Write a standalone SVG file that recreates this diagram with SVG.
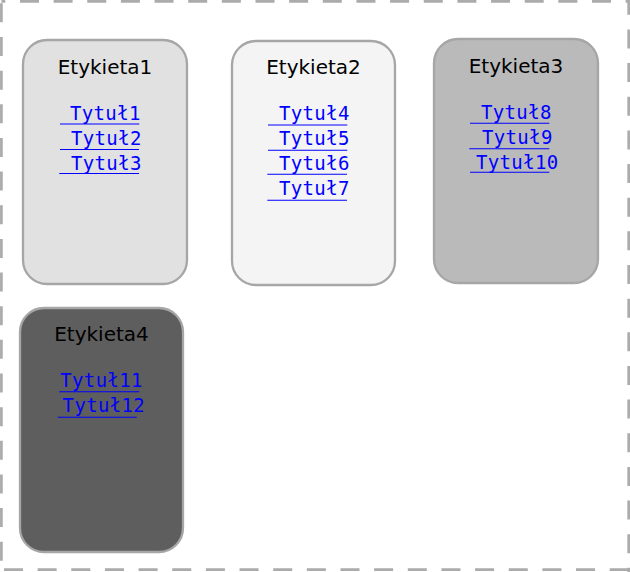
<svg xmlns="http://www.w3.org/2000/svg" width="630" height="572" viewBox="0 0 630 572">
  <style>
    .frame { stroke: #ababab; stroke-width: 2.7; stroke-dasharray: 19 14.65; fill: none; }
    .box { stroke: #a6a6a6; stroke-width: 2.3; }
    .title { font-family: "DejaVu Sans", "Liberation Sans", sans-serif; font-size: 20px; fill: #000; text-anchor: middle; }
    .link { font-family: "DejaVu Sans Mono", "Liberation Mono", monospace; font-size: 19px; letter-spacing: 0.35px; fill: #0000ff; }
    .ul { stroke: #0000ff; stroke-width: 1.1; }
  </style>
  <rect width="630" height="572" fill="#ffffff"/>
  <g id="container">
    <line class="frame" x1="1.4" y1="1.35" x2="630" y2="1.35" stroke-dashoffset="15.1"/>
    <line class="frame" x1="628.7" y1="1.4" x2="628.7" y2="572" stroke-dashoffset="5.6"/>
    <line class="frame" x1="628.7" y1="569.7" x2="0" y2="569.7" stroke-dashoffset="0"/>
    <line class="frame" x1="1.4" y1="1.4" x2="1.4" y2="569.7" stroke-dashoffset="31.7"/>
  </g>
  <g id="connectors"></g>
  <g id="node1">
    <rect class="box" x="23" y="40" width="164" height="244" rx="24" fill="#e1e1e1"/>
    <text class="title" x="105" y="73.7">Etykieta1</text>
    <text class="link" x="70" y="119.7">Tytuł1</text>
    <text class="link" x="71" y="144.7">Tytuł2</text>
    <text class="link" x="71" y="169.7">Tytuł3</text>
    <line class="ul" x1="60" y1="124" x2="139.3" y2="124"/>
    <line class="ul" x1="60" y1="149.5" x2="139" y2="149.5"/>
    <line class="ul" x1="59.3" y1="173.5" x2="139" y2="173.5"/>
  </g>
  <g id="node2">
    <rect class="box" x="232" y="41" width="163" height="244" rx="24" fill="#f4f4f4"/>
    <text class="title" x="313.5" y="74">Etykieta2</text>
    <text class="link" x="279" y="120.3">Tytuł4</text>
    <text class="link" x="279" y="145.3">Tytuł5</text>
    <text class="link" x="279" y="170">Tytuł6</text>
    <text class="link" x="279" y="195">Tytuł7</text>
    <line class="ul" x1="268" y1="125" x2="347.3" y2="125"/>
    <line class="ul" x1="268" y1="150.3" x2="347.3" y2="150.3"/>
    <line class="ul" x1="267.3" y1="174.3" x2="347" y2="174.3"/>
    <line class="ul" x1="267.3" y1="200.3" x2="347" y2="200.3"/>
  </g>
  <g id="node3">
    <rect class="box" x="434" y="39" width="164" height="244" rx="24" fill="#bababa"/>
    <text class="title" x="516" y="72.7">Etykieta3</text>
    <text class="link" x="481" y="118.7">Tytuł8</text>
    <text class="link" x="482" y="143.7">Tytuł9</text>
    <text class="link" x="476" y="168.7">Tytuł10</text>
    <line class="ul" x1="470" y1="123.3" x2="549.3" y2="123.3"/>
    <line class="ul" x1="469.3" y1="148.7" x2="549.3" y2="148.7"/>
    <line class="ul" x1="470" y1="172.3" x2="549.3" y2="172.3"/>
  </g>
  <g id="node4">
    <rect class="box" x="20" y="308" width="163" height="244" rx="24" fill="#5e5e5e"/>
    <text class="title" x="101.5" y="340.7">Etykieta4</text>
    <text class="link" x="60.3" y="387.3">Tytuł11</text>
    <text class="link" x="62.6" y="412.3">Tytuł12</text>
    <line class="ul" x1="59.3" y1="391.7" x2="139.3" y2="391.7"/>
    <line class="ul" x1="57.7" y1="417.3" x2="136.7" y2="417.3"/>
  </g>
</svg>
